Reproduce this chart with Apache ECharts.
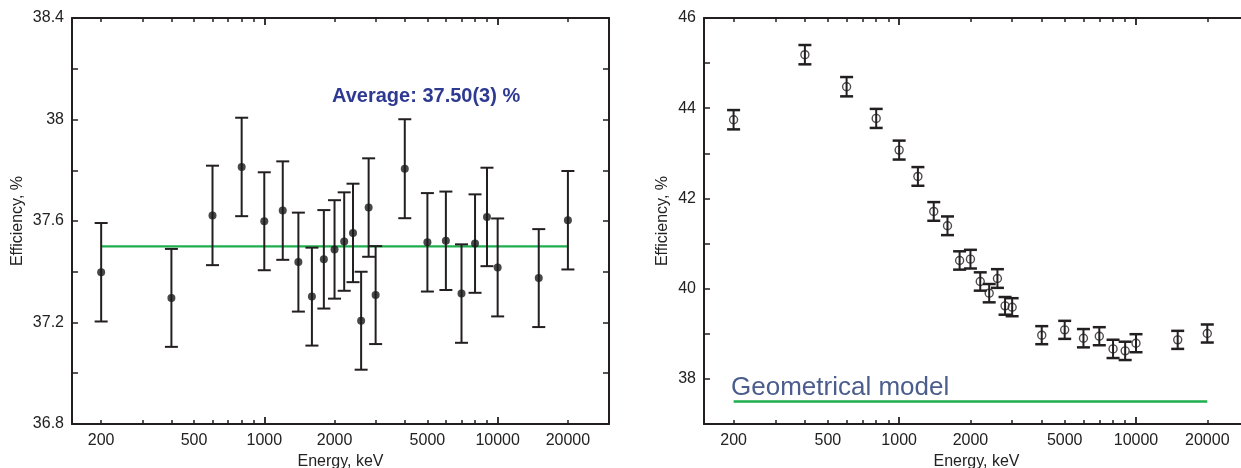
<!DOCTYPE html>
<html><head><meta charset="utf-8">
<script src="https://cdn.jsdelivr.net/npm/echarts@6/dist/echarts.min.js"></script>
<style>html,body{margin:0;padding:0;background:#fff;overflow:hidden}#c{width:1241px;height:468px}</style>
</head><body><div id="c"></div>
<script>
// ---- data ----
const energies = [200,400,600,800,1000,1200,1400,1600,1800,2000,2200,2400,2600,2800,3000,4000,5000,6000,7000,8000,9000,10000,15000,20000];
const leftValues = [37.398,37.297,37.622,37.813,37.599,37.641,37.438,37.302,37.449,37.488,37.519,37.553,37.207,37.653,37.308,37.806,37.516,37.522,37.314,37.511,37.616,37.417,37.375,37.603];
const leftErrors = [0.194,0.193,0.196,0.194,0.193,0.194,0.195,0.193,0.194,0.194,0.194,0.194,0.193,0.194,0.193,0.195,0.194,0.194,0.194,0.194,0.194,0.193,0.193,0.194];
const rightValues = [43.745,45.187,44.477,43.774,43.072,42.488,41.712,41.394,40.625,40.654,40.159,39.900,40.225,39.619,39.589,38.969,39.087,38.902,38.946,38.665,38.621,38.791,38.865,39.006];
const rightErrors = [0.214,0.214,0.214,0.211,0.210,0.207,0.207,0.207,0.203,0.207,0.203,0.203,0.207,0.196,0.200,0.200,0.200,0.203,0.200,0.203,0.203,0.200,0.200,0.200];
const averageValue = 37.5;
const geometricalValue = 37.5;
const lineRange = [200, 20000];
const xRange = [150, 30000];
const xTickLabels = [200,500,1000,2000,5000,10000,20000];
const xMinorTicks = [200,300,400,500,600,700,800,900,2000,3000,4000,5000,6000,7000,8000,9000,20000];
const xMajorTicks = [1000,10000];
const leftYRange = [36.8, 38.4];
const leftYLabels = [36.8,37.2,37.6,38,38.4];
const rightYRange = [37, 46];
const rightYLabels = [38,40,42,44,46];
const averageText = 'Average: 37.50(3) %';
const modelText = 'Geometrical model';
const xName = 'Energy, keV';
const yName = 'Efficiency, %';

// ---- chart ----
const lg = v => Math.log10(v);
const FONT = "'Liberation Sans', Arial, sans-serif";
const INK = '#231f20';
const GREEN = '#1fae4e';

function xAxesFor(g, nameGap) {
  const base = {
    type: 'value', gridIndex: g, min: lg(xRange[0]), max: lg(xRange[1]),
    splitLine: {show: false}
  };
  return [
    Object.assign({}, base, {
      position: 'bottom',
      axisLine: {show: true, onZero: false, lineStyle: {color: INK, width: 2}},
      axisTick: {show: true, inside: true, length: 4, customValues: xMinorTicks.map(lg), lineStyle: {color: INK, width: 1.5}},
      axisLabel: {show: true, customValues: xTickLabels.map(lg), margin: 9, fontSize: 16, color: '#222', fontFamily: FONT,
        formatter: v => String(Math.round(Math.pow(10, v)))},
      name: xName, nameLocation: 'middle', nameGap: nameGap,
      nameTextStyle: {fontSize: 16, color: '#222', fontFamily: FONT}
    }),
    Object.assign({}, base, {
      position: 'top',
      axisLine: {show: true, onZero: false, lineStyle: {color: INK, width: 2}},
      axisTick: {show: true, inside: true, length: 4, customValues: xMinorTicks.map(lg), lineStyle: {color: INK, width: 1.5}},
      axisLabel: {show: false}
    }),
    Object.assign({}, base, {
      position: 'bottom',
      axisLine: {show: false, onZero: false},
      axisTick: {show: true, inside: true, length: 7, customValues: xMajorTicks.map(lg), lineStyle: {color: INK, width: 1.8}},
      axisLabel: {show: false}
    }),
    Object.assign({}, base, {
      position: 'top',
      axisLine: {show: false, onZero: false},
      axisTick: {show: true, inside: true, length: 7, customValues: xMajorTicks.map(lg), lineStyle: {color: INK, width: 1.8}},
      axisLabel: {show: false}
    })
  ];
}

function yAxesFor(g, range, interval, labels, nameGap) {
  const base = {type: 'value', gridIndex: g, min: range[0], max: range[1], interval: interval, splitLine: {show: false}};
  return [
    Object.assign({}, base, {
      position: 'left',
      axisLine: {show: true, onZero: false, lineStyle: {color: INK, width: 2}},
      axisTick: {show: true, inside: true, length: 6, lineStyle: {color: INK, width: 1.5}},
      axisLabel: {show: true, customValues: labels, margin: 8, fontSize: 16, color: '#222', fontFamily: FONT},
      name: yName, nameLocation: 'middle', nameGap: nameGap,
      nameTextStyle: {fontSize: 16, color: '#222', fontFamily: FONT}
    }),
    Object.assign({}, base, {
      position: 'right',
      axisLine: {show: true, onZero: false, lineStyle: {color: INK, width: 2}},
      axisTick: {show: true, inside: true, length: 6, lineStyle: {color: INK, width: 1.5}},
      axisLabel: {show: false}
    })
  ];
}

function errRender(capHalf, vWidth, capWidth) {
  return function (params, api) {
    const x = api.value(0), y = api.value(1), e = api.value(2);
    const top = api.coord([x, y + e]);
    const bot = api.coord([x, y - e]);
    return {
      type: 'group',
      children: [
        {type: 'line', shape: {x1: top[0], y1: top[1], x2: bot[0], y2: bot[1]}, style: {stroke: INK, lineWidth: vWidth}},
        {type: 'line', shape: {x1: top[0] - capHalf, y1: top[1], x2: top[0] + capHalf, y2: top[1]}, style: {stroke: INK, lineWidth: capWidth}},
        {type: 'line', shape: {x1: bot[0] - capHalf, y1: bot[1], x2: bot[0] + capHalf, y2: bot[1]}, style: {stroke: INK, lineWidth: capWidth}}
      ]
    };
  };
}

const leftErrData = energies.map((e, i) => [lg(e), leftValues[i], leftErrors[i]]);
const rightErrData = energies.map((e, i) => [lg(e), rightValues[i], rightErrors[i]]);
const leftPts = energies.map((e, i) => [lg(e), leftValues[i]]);
const rightPts = energies.map((e, i) => [lg(e), rightValues[i]]);

const option = {
  animation: false,
  backgroundColor: '#fff',
  grid: [
    {left: 72, top: 18, width: 537, height: 406, outerBoundsMode: 'none', containLabel: false},
    {left: 704, top: 18, width: 545, height: 406, outerBoundsMode: 'none', containLabel: false}
  ],
  xAxis: xAxesFor(0, 26).concat(xAxesFor(1, 26)),
  yAxis: yAxesFor(0, leftYRange, 0.2, leftYLabels, 46).concat(yAxesFor(1, rightYRange, 1, rightYLabels, 33)),
  series: [
    {type: 'line', xAxisIndex: 0, yAxisIndex: 0, symbol: 'none', z: 1,
      data: lineRange.map(e => [lg(e), averageValue]), lineStyle: {color: GREEN, width: 2.2}},
    {type: 'custom', xAxisIndex: 0, yAxisIndex: 0, renderItem: errRender(6.5, 2, 2), data: leftErrData, z: 2},
    {type: 'scatter', xAxisIndex: 0, yAxisIndex: 0, symbol: 'circle', symbolSize: 8, data: leftPts,
      itemStyle: {color: '#1a1a1a'}, z: 3},
    {type: 'line', xAxisIndex: 4, yAxisIndex: 2, symbol: 'none', z: 1,
      data: lineRange.map(e => [lg(e), geometricalValue]), lineStyle: {color: GREEN, width: 2.5}},
    {type: 'custom', xAxisIndex: 4, yAxisIndex: 2, renderItem: errRender(6.5, 2, 2.5), data: rightErrData, z: 2},
    {type: 'scatter', xAxisIndex: 4, yAxisIndex: 2, symbol: 'circle', symbolSize: 8, data: rightPts,
      itemStyle: {color: 'rgba(0,0,0,0)', borderColor: INK, borderWidth: 1.4}, z: 3}
  ],
  graphic: [
    {type: 'text', x: 332, y: 96, z: 10,
      style: {text: averageText, fontSize: 20, fontWeight: 'bold', fill: '#2e3a92', fontFamily: FONT, align: 'left', verticalAlign: 'middle'}},
    {type: 'text', x: 731, y: 388, z: 10,
      style: {text: modelText, fontSize: 26, fill: '#4a5d8c', fontFamily: FONT, align: 'left', verticalAlign: 'middle'}}
  ]
};

const chart = echarts.init(document.getElementById('c'), null, {renderer: 'canvas'});
chart.setOption(option);
</script>
</body></html>
